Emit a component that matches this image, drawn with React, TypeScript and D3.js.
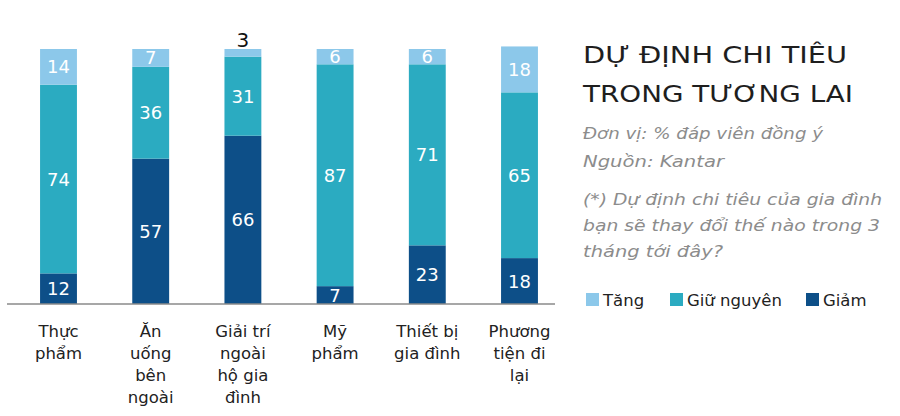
import React from "react";
import { scaleBand, scaleLinear, stack } from "d3";

type Row = { name: string; lines: string[]; tang: number; giu: number; giam: number };

const categories = [
  "Thực phẩm",
  "Ăn uống bên ngoài",
  "Giải trí ngoài hộ gia đình",
  "Mỹ phẩm",
  "Thiết bị gia đình",
  "Phương tiện đi lại",
];
const labelLines = [
  ["Thực", "phẩm"],
  ["Ăn", "uống", "bên", "ngoài"],
  ["Giải trí", "ngoài", "hộ gia", "đình"],
  ["Mỹ", "phẩm"],
  ["Thiết bị", "gia đình"],
  ["Phương", "tiện đi", "lại"],
];
const tang = [14, 7, 3, 6, 6, 18];
const giuNguyen = [74, 36, 31, 87, 71, 65];
const giam = [12, 57, 66, 7, 23, 18];

const seriesKeys = ["giam", "giu", "tang"] as const;
const seriesNames = { tang: "Tăng", giu: "Giữ nguyên", giam: "Giảm" };
const colors = { tang: "#8cc8ea", giu: "#2babc1", giam: "#0d4f88" };
const legendOrder = ["tang", "giu", "giam"] as const;

const titleLines = ["DỰ ĐỊNH CHI TIÊU", "TRONG TƯƠNG LAI"];
const noteLines = ["Đơn vị: % đáp viên đồng ý", "Nguồn: Kantar"];
const questionLines = [
  "(*) Dự định chi tiêu của gia đình",
  "bạn sẽ thay đổi thế nào trong 3",
  "tháng tới đây?",
];

const W = 900;
const H = 416;
const font = "'DejaVu Sans', 'Noto Sans', sans-serif";

const titleWidths = [264, 270];
const noteWidths = [240, 141];
const questionWidths = [299, 297, 140];

export default function App() {
  const rows: Row[] = categories.map((name, i) => ({
    name,
    lines: labelLines[i],
    tang: tang[i],
    giu: giuNguyen[i],
    giam: giam[i],
  }));

  const x = scaleBand<string>()
    .domain(categories)
    .range([12.4, 565.6])
    .paddingInner(0.6)
    .paddingOuter(0.3);
  const y = scaleLinear().domain([0, 100]).range([304, 49]);

  const stacked = stack<Row>().keys(seriesKeys as unknown as string[])(rows);
  const cx = (name: string) => (x(name) ?? 0) + x.bandwidth() / 2;

  return (
    <svg
      width={W}
      height={H}
      style={{ position: "absolute", left: 0, top: 0, background: "#fff" }}
      fontFamily={font}
    >
      {stacked.map((s) => (
        <g key={s.key} fill={colors[s.key as keyof typeof colors]}>
          {s.map((d) => (
            <rect
              key={d.data.name}
              x={x(d.data.name)}
              y={y(d[1])}
              width={x.bandwidth()}
              height={y(d[0]) - y(d[1])}
            />
          ))}
        </g>
      ))}

      {stacked.map((s) =>
        s.map((d) => {
          const v = d[1] - d[0];
          if (v < 5) {
            // too thin for an inside label: put it above the bar
            return (
              <text
                key={s.key + d.data.name}
                x={cx(d.data.name)}
                y={y(d[1]) - 2}
                textAnchor="middle"
                fontSize={20}
                fill="#111"
              >
                {v}
              </text>
            );
          }
          return (
            <text
              key={s.key + d.data.name}
              x={cx(d.data.name)}
              y={(y(d[0]) + y(d[1])) / 2}
              dy="0.36em"
              textAnchor="middle"
              fontSize={18}
              fill="#fff"
            >
              {v}
            </text>
          );
        })
      )}

      <line x1={7} x2={555} y1={y(0)} y2={y(0)} stroke="#8a8a8a" strokeWidth={1.5} />

      {rows.map((r) => (
        <text key={r.name} x={cx(r.name)} y={337} textAnchor="middle" fontSize={16.5} fill="#222">
          {r.lines.map((l, i) => (
            <tspan key={i} x={cx(r.name)} dy={i === 0 ? 0 : 22}>
              {l}
            </tspan>
          ))}
        </text>
      ))}

      {titleLines.map((t, i) => (
        <text
          key={t}
          x={583}
          y={63 + i * 39}
          fontSize={23.5}
          fill="#1e1e1e"
          textLength={titleWidths[i]}
          lengthAdjust="spacingAndGlyphs"
        >
          {t}
        </text>
      ))}
      {noteLines.map((t, i) => (
        <text
          key={t}
          x={583}
          y={139 + i * 28}
          fontSize={16}
          fontStyle="italic"
          fill="#8c8c8c"
          textLength={noteWidths[i]}
          lengthAdjust="spacingAndGlyphs"
        >
          {t}
        </text>
      ))}
      {questionLines.map((t, i) => (
        <text
          key={t}
          x={583}
          y={205 + i * 26}
          fontSize={16}
          fontStyle="italic"
          fill="#8c8c8c"
          textLength={questionWidths[i]}
          lengthAdjust="spacingAndGlyphs"
        >
          {t}
        </text>
      ))}

      {legendOrder.map((k, i) => {
        const lx = [586, 670, 806][i];
        return (
          <g key={k}>
            <rect x={lx} y={293} width={13} height={13} fill={colors[k]} />
            <text x={lx + 17} y={306} fontSize={16.5} fill="#222">
              {seriesNames[k]}
            </text>
          </g>
        );
      })}
    </svg>
  );
}
